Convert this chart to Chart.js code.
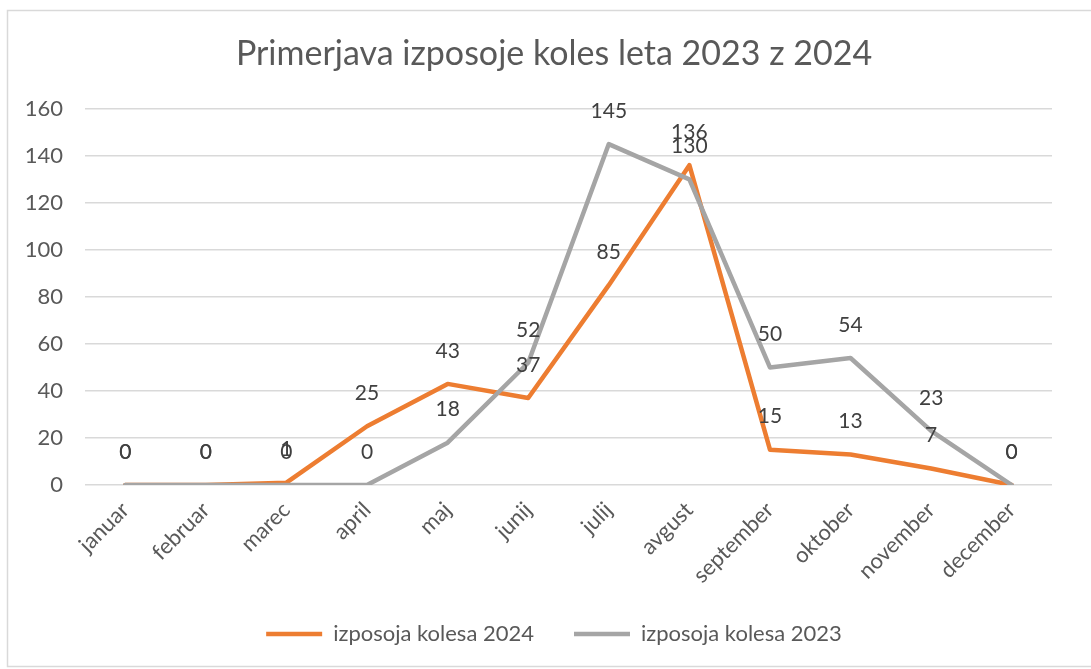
<!DOCTYPE html>
<html>
<head>
<meta charset="utf-8">
<script src="https://cdn.jsdelivr.net/npm/chart.js@4.4.6/dist/chart.umd.min.js"></script>
<style>
  html, body { margin: 0; padding: 0; background: #fff; }
  #wrap { position: relative; width: 1091px; height: 669px; }
</style>
</head>
<body>
<div id="wrap"><canvas id="chart" width="1091" height="669"></canvas></div>
<script>
// months (x axis)
const months = ["januar", "februar", "marec", "april", "maj", "junij",
  "julij", "avgust", "september", "oktober", "november", "december"];

// rentals per month
const rentals2024 = [0, 0, 1, 25, 43, 37, 85, 136, 15, 13, 7, 0];
const rentals2023 = [0, 0, 0, 0, 18, 52, 145, 130, 50, 54, 23, 0];

const seriesNames = ["izposoja kolesa 2024", "izposoja kolesa 2023"];
const colors = ["#ED7D31", "#A5A5A5"];

const FONT = "Lato, 'Open Sans', sans-serif";

// frame around the whole chart, like the Excel chart area
const frame = {
  id: "frame",
  beforeDraw(chart) {
    const c = chart.ctx;
    c.save();
    c.fillStyle = "#fff";
    c.fillRect(0, 0, chart.width, chart.height);
    c.strokeStyle = "#D9D9D9";
    c.lineWidth = 1.5;
    c.strokeRect(7.5, 10.5, 1100, 656);
    c.restore();
  }
};

// value labels above each point
const valueLabels = {
  id: "valueLabels",
  afterDatasetsDraw(chart) {
    const c = chart.ctx;
    c.save();
    c.font = "21px " + FONT;
    c.fillStyle = "#404040";
    c.textAlign = "center";
    c.textBaseline = "middle";
    chart.data.datasets.forEach((ds, i) => {
      chart.getDatasetMeta(i).data.forEach((pt, j) => {
        c.fillText(String(ds.data[j]), pt.x, pt.y - 33);
      });
    });
    c.restore();
  }
};

const lineStyle = { borderWidth: 4.5, borderCapStyle: "round", borderJoinStyle: "round" };

new Chart(document.getElementById("chart"), {
  type: "line",
  data: {
    labels: months,
    datasets: [
      {
        label: seriesNames[0],
        data: rentals2024,
        borderColor: colors[0],
        backgroundColor: colors[0],
        ...lineStyle,
        order: 2
      },
      {
        label: seriesNames[1],
        data: rentals2023,
        borderColor: colors[1],
        backgroundColor: colors[1],
        ...lineStyle,
        order: 1
      }
    ]
  },
  options: {
    responsive: false,
    animation: false,
    elements: {
      line: { tension: 0 },
      point: { radius: 0, hoverRadius: 0 }
    },
    layout: { padding: { top: 20, left: 17, right: 0, bottom: 14 } },
    plugins: {
      tooltip: { enabled: false },
      title: {
        display: true,
        text: "Primerjava izposoje koles leta 2023 z 2024",
        color: "#595959",
        font: { family: FONT, size: 34, weight: "normal" },
        padding: { top: 14, bottom: 34 }
      },
      legend: {
        position: "bottom",
        labels: {
          usePointStyle: true,
          pointStyle: "line",
          pointStyleWidth: 56,
          boxWidth: 56,
          boxHeight: 21,
          padding: 40,
          color: "#595959",
          font: { family: FONT, size: 22 },
          sort: (a, b) => a.datasetIndex - b.datasetIndex
        }
      }
    },
    scales: {
      x: {
        offset: true,
        grid: { display: false, drawTicks: false },
        border: { display: false },
        ticks: {
          minRotation: 45,
          maxRotation: 45,
          padding: 12,
          color: "#595959",
          font: { family: FONT, size: 22 }
        },
        afterFit: (scale) => { scale.height = 98; }
      },
      y: {
        min: 0,
        max: 160,
        grid: { color: "#D9D9D9", lineWidth: 1.5, drawTicks: false },
        border: { display: false },
        ticks: {
          stepSize: 20,
          padding: 22,
          color: "#595959",
          font: { family: FONT, size: 22 }
        },
        afterFit: (scale) => { scale.width = 68; }
      },
      // empty right margin of the plot area
      yRight: {
        type: "linear",
        position: "right",
        grid: { display: false },
        border: { display: false },
        ticks: { display: false },
        afterFit: (scale) => { scale.width = 39; }
      }
    }
  },
  plugins: [frame, valueLabels]
});
</script>
</body>
</html>
